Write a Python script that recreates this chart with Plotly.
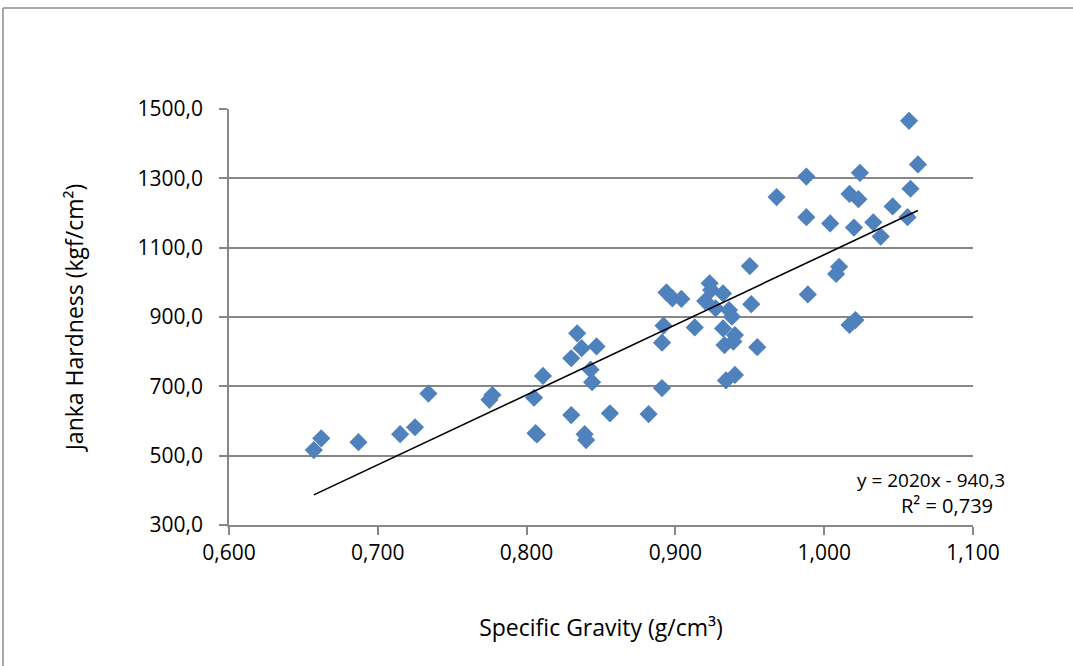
import plotly.graph_objects as go

# Specific gravity (g/cm³)
specific_gravity = [
    0.657, 0.662, 0.687, 0.715, 0.725, 0.734, 0.777, 0.775, 0.805, 0.811,
    0.806, 0.807, 0.830, 0.839, 0.840, 0.834, 0.837, 0.830, 0.847, 0.843,
    0.844, 0.856, 0.882, 0.891, 0.891, 0.892, 0.894, 0.898, 0.904, 0.913,
    0.920, 0.923, 0.924, 0.927, 0.932, 0.936, 0.938, 0.932, 0.940, 0.939,
    0.933, 0.955, 0.934, 0.940, 0.950, 0.951, 0.968, 0.988, 0.988, 0.989,
    1.004, 1.010, 1.008, 1.017, 1.023, 1.024, 1.020, 1.021, 1.017, 1.033,
    1.038, 1.046, 1.056, 1.058, 1.057, 1.063,
]
# Janka hardness (kgf/cm²)
janka_hardness = [
    516, 550, 539, 562, 582, 679, 675, 661, 667, 730,
    565, 561, 617, 562, 545, 853, 810, 781, 815, 748,
    712, 622, 620, 695, 826, 875, 971, 954, 952, 870,
    946, 997, 978, 925, 968, 920, 901, 867, 848, 829,
    819, 813, 717, 733, 1047, 937, 1246, 1305, 1188, 965,
    1170, 1045, 1024, 1255, 1240, 1316, 1158, 891, 877, 1173,
    1132, 1219, 1188, 1270, 1466, 1340,
]

trend_slope = 2020.0
trend_intercept = -940.3
r_squared = "0,739"

x_ticks = [0.6, 0.7, 0.8, 0.9, 1.0, 1.1]
y_ticks = [300, 500, 700, 900, 1100, 1300, 1500]

FONT = "Open Sans"
GRID = "#878787"

trend_x = [min(specific_gravity), max(specific_gravity)]
trend_y = [trend_slope * v + trend_intercept for v in trend_x]

fig = go.Figure()
fig.add_trace(go.Scatter(
    x=specific_gravity, y=janka_hardness, mode="markers",
    marker=dict(symbol="diamond", size=14, color="#4F81BD", line=dict(width=0)),
    showlegend=False,
))
fig.add_trace(go.Scatter(
    x=trend_x, y=trend_y, mode="lines",
    line=dict(color="black", width=1.6), showlegend=False,
))

eq_text = "y = %gx - %s" % (trend_slope, ("%.1f" % -trend_intercept).replace(".", ","))

fig.update_layout(
    width=1073, height=666,
    margin=dict(l=229, r=100, t=109, b=141),
    paper_bgcolor="white", plot_bgcolor="white",
    separators=",.",
    font=dict(family=FONT, size=19, color="black"),
    xaxis=dict(
        range=[0.6, 1.1], tickvals=x_ticks, tickformat=".3f",
        showgrid=False, zeroline=False,
        showline=True, linecolor=GRID, linewidth=1.5,
        ticks="outside", ticklen=8, tickcolor=GRID, tickwidth=1.5,
        ticklabelstandoff=0, tickfont=dict(size=21),
        title=dict(text="Specific Gravity (g/cm³)", standoff=55),
    ),
    yaxis=dict(
        range=[300, 1500], tickvals=y_ticks, tickformat=".1f",
        showgrid=True, gridcolor=GRID, gridwidth=1.5, zeroline=False,
        showline=True, linecolor=GRID, linewidth=1.5,
        ticks="outside", ticklen=8, tickcolor=GRID, tickwidth=1.5,
        ticklabelstandoff=12, tickfont=dict(size=21),
        title=dict(text="Janka Hardness (kgf/cm²)", standoff=48),
    ),
    annotations=[
        dict(text=eq_text, xref="paper", yref="paper", x=0.944, y=0.108,
             xanchor="center", yanchor="middle", showarrow=False),
        dict(text="R² = " + r_squared, xref="paper", yref="paper", x=0.965, y=0.0457,
             xanchor="center", yanchor="middle", showarrow=False, font=dict(size=20)),
    ],
    shapes=[
        dict(type="line", xref="paper", yref="paper", x0=-0.3038, x1=-0.3038,
             y0=1.2428, y1=-0.4, line=dict(color="#8c8c8c", width=1.5)),
        dict(type="line", xref="paper", yref="paper", x0=-0.3038, x1=1.15,
             y0=1.2428, y1=1.2428, line=dict(color="#8c8c8c", width=1.5)),
    ],
)

fig.write_html("out.html", config={"displayModeBar": False},
               post_script="document.body.style.margin='0';")
